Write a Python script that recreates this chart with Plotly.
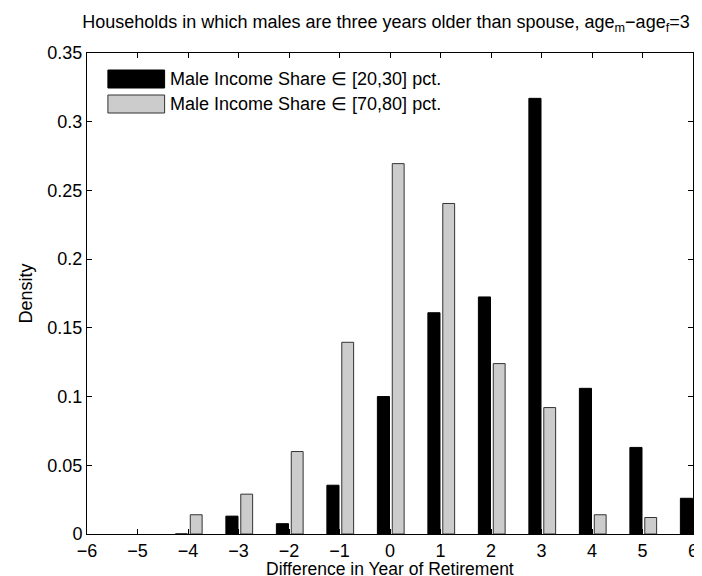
import plotly.graph_objects as go

years = [-6, -5, -4, -3, -2, -1, 0, 1, 2, 3, 4, 5, 6]
share_20_30 = [None, None, 0.0, 0.013, 0.0075, 0.0355, 0.100, 0.161, 0.1725, 0.317, 0.106, 0.063, 0.026]
share_70_80 = [None, None, 0.014, 0.029, 0.060, 0.1395, 0.2695, 0.2405, 0.124, 0.092, 0.014, 0.012, None]
series_names = ["Male Income Share \u2208 [20,30] pct.", "Male Income Share \u2208 [70,80] pct."]
y_ticks = [0, 0.05, 0.1, 0.15, 0.2, 0.25, 0.3, 0.35]
y_tick_labels = ["0", "0.05", "0.1", "0.15", "0.2", "0.25", "0.3", "0.35"]
x_ticks = list(range(-6, 7))
x_tick_labels = ["\u2212" + str(-v) if v < 0 else str(v) for v in x_ticks]

FONT = "Liberation Sans, Arial, Helvetica, sans-serif"
FS = 18

fig = go.Figure()
fig.add_trace(go.Bar(x=years, y=share_20_30, name=series_names[0], offset=-0.25, width=0.24,
                     marker=dict(color="black", line=dict(color="black", width=1))))
fig.add_trace(go.Bar(x=years, y=share_70_80, name=series_names[1], offset=0.045, width=0.235,
                     marker=dict(color="#cccccc", line=dict(color="#333333", width=1))))

W, H = 702, 576
L, R, T, B = 79, 14, 45, 50
pw, ph = W - L - R, H - T - B

def px_x(px):
    return (px - L) / pw

def px_y(py):
    return (H - B - py) / ph

# manual legend (MATLAB-style long patches, no box)
legend_items = [("black", "black", 62, 80), ("#cccccc", "#333333", 87, 105)]
shapes = []
annotations = []
for (fill, line, y0, y1), name in zip(legend_items, series_names):
    shapes.append(dict(type="rect", xref="paper", yref="paper",
                       x0=px_x(100), x1=px_x(157), y0=px_y(y1), y1=px_y(y0),
                       fillcolor=fill, line=dict(color=line, width=1)))
    annotations.append(dict(xref="paper", yref="paper", x=px_x(160), y=px_y((y0 + y1) / 2),
                            text=name, showarrow=False, xanchor="left", yanchor="middle",
                            font=dict(family=FONT, size=FS, color="black")))

# x-axis title as annotation for exact vertical placement
annotations.append(dict(xref="paper", yref="paper", x=0.5, y=px_y(561), xanchor="center",
                        yanchor="middle", showarrow=False, borderpad=0,
                        text="Difference in Year of Retirement",
                        font=dict(family=FONT, size=17.5, color="black")))

fig.update_layout(
    width=W, height=H,
    margin=dict(l=L, r=R, t=T, b=B),
    paper_bgcolor="white", plot_bgcolor="white",
    barmode="overlay",
    showlegend=False,
    font=dict(family=FONT, size=FS, color="black"),
    title=dict(text="Households in which males are three years older than spouse, age<sub>m</sub>\u2212age<sub>f</sub>=3",
               x=378 / W, xanchor="center", y=1 - 14 / H, yanchor="middle",
               font=dict(family=FONT, size=FS, color="black")),
    shapes=shapes,
    annotations=annotations,
)
fig.update_xaxes(range=[-6, 6], tickvals=x_ticks, ticktext=x_tick_labels,
                 ticks="inside", ticklen=5, tickcolor="black", mirror="ticks",
                 showline=True, linecolor="black", linewidth=1, showgrid=False, zeroline=False,
                 tickfont=dict(family=FONT, size=FS))
fig.update_yaxes(range=[0, 0.35], tickvals=y_ticks, ticktext=y_tick_labels,
                 ticks="inside", ticklen=5, tickcolor="black", mirror="ticks",
                 showline=True, linecolor="black", linewidth=1, showgrid=False, zeroline=False,
                 title=dict(text="Density", standoff=10, font=dict(family=FONT, size=FS)),
                 tickfont=dict(family=FONT, size=FS))

fig.write_html("out.html")
